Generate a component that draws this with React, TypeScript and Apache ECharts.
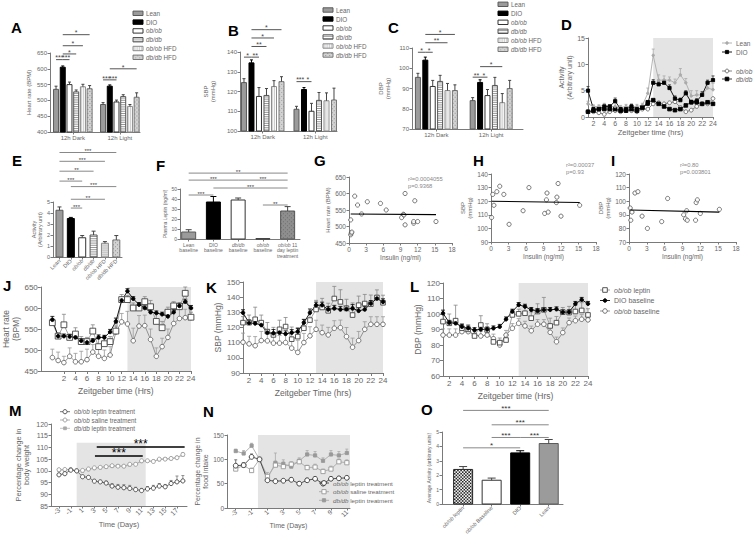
import { useEffect, useRef } from 'react';
import * as echarts from 'echarts';

const FONT = '"Liberation Sans", Arial, sans-serif';
const AXC = '#7a7a7a';
const TXC = '#666666';

// ---------- A/B/C ----------
const GENO = ['Lean', 'DIO', 'ob/ob', 'db/db', 'ob/ob HFD', 'db/db HFD'];
const PHASES = ['12h Dark', '12h Light'];
const HR_DARK = [535, 605, 550, 527, 543, 537];
const HR_DARK_SE = [10, 4, 8, 6, 8, 10];
const HR_LIGHT = [487, 545, 495, 512, 481, 510];
const HR_LIGHT_SE = [6, 4, 6, 6, 6, 14];
const SBP_DARK = [124.5, 134.5, 117.5, 118, 122.5, 125];
const SBP_DARK_SE = [2, 1.5, 4.5, 3.5, 3, 2.5];
const SBP_LIGHT = [111, 121, 110, 115.5, 115.3, 115.7];
const SBP_LIGHT_SE = [1.5, 1, 4, 4, 4, 6];
const DBP_DARK = [95.5, 104, 91, 93.5, 89, 89];
const DBP_DARK_SE = [2, 1.5, 3, 3, 3.5, 2.8];
const DBP_LIGHT = [84, 93, 86.5, 91.5, 83, 90];
const DBP_LIGHT_SE = [1.5, 1.3, 3, 4, 4.5, 4];

// ---------- D ----------
const HOURS = [1, 2, 3, 4, 5, 6, 7, 8, 9, 10, 11, 12, 13, 14, 15, 16, 17, 18, 19, 20, 21, 22, 23, 24];
const D_LEAN = [2.5, 2.0, 2.0, 2.2, 2.0, 2.0, 1.8, 2.0, 2.0, 2.0, 2.2, 4.5, 11.7, 7.0, 7.0, 7.0, 6.5, 8.0, 6.5, 4.0, 4.2, 4.2, 5.5, 5.2];
const D_LEAN_SE = [0.5, 0.3, 0.3, 0.4, 0.3, 1.2, 0.4, 0.4, 0.5, 0.4, 0.4, 1.0, 1.2, 1.0, 0.8, 0.6, 0.7, 1.2, 0.8, 1.0, 0.8, 0.6, 0.8, 1.2];
const D_DIO = [5.0, 1.5, 1.5, 2.0, 2.0, 3.0, 1.5, 1.5, 2.0, 1.5, 1.8, 2.5, 6.5, 6.2, 6.5, 5.5, 3.5, 3.2, 4.5, 2.8, 3.0, 4.2, 6.5, 7.0];
const D_DIO_SE = [0.8, 0.3, 0.3, 0.4, 0.3, 0.6, 0.3, 0.3, 0.4, 0.3, 0.3, 0.4, 0.6, 0.6, 0.5, 0.6, 0.5, 0.4, 0.5, 0.4, 0.5, 0.6, 0.5, 0.8];
const D_OB = [1.0, 1.0, 0.8, 0.5, 1.0, 1.2, 1.0, 1.2, 1.2, 1.0, 1.5, 1.5, 2.5, 2.7, 2.5, 2.7, 2.9, 1.8, 1.0, 1.3, 2.0, 2.5, 2.5, 3.5];
const D_DB = [1.0, 1.2, 1.5, 1.5, 1.5, 1.5, 1.2, 1.2, 1.5, 1.2, 1.8, 2.8, 3.2, 2.5, 2.0, 1.5, 1.3, 1.5, 2.2, 2.8, 2.8, 2.5, 2.8, 2.5];

// ---------- E ----------
const E_VALS = [4.25, 3.5, 1.75, 2.0, 1.25, 1.55];
const E_SE = [0.3, 0.1, 0.2, 0.35, 0.15, 0.4];

// ---------- F ----------
const F_CATS = ['Lean\nbaseline', 'DIO\nbaseline', 'db/db\nbaseline', 'ob/ob\nbaseline', 'ob/ob 11\nday leptin\ntreatment'];
const F_VALS = [7, 37, 39, 0.3, 28];
const F_SE = [2.3, 5.5, 2, 0, 4.4];

// ---------- G/H/I ----------
const G_INS = [0.3, 0.3, 0.4, 0.5, 1, 1.5, 2.2, 3.2, 5.5, 6.5, 9.2, 9.5, 9.6, 9.8, 9.8, 11.3, 11.3, 11.5, 12, 15.2];
const G_HR = [520, 475, 480, 483, 592, 565, 538, 575, 570, 550, 527, 537, 535, 600, 505, 510, 515, 578, 515, 515];
const G_FIT_X = [0.3, 15.2];
const G_FIT_Y = [538, 536];
const H_INS = [0.1, 0.3, 0.5, 1, 1.5, 2.2, 3.1, 5.5, 6.5, 9.2, 9.6, 9.5, 9.8, 11.2, 11.3, 11.5, 12, 15.2];
const H_SBP = [108, 125, 117, 127, 131, 125, 103, 113, 130, 111, 126, 121, 112, 119, 123, 133, 109, 117];
const H_FIT_X = [0.1, 15.2];
const H_FIT_Y = [120, 119];
const I_INS = [0.2, 0.3, 0.5, 1, 1.5, 2.2, 3.1, 5.5, 6.5, 9.2, 9.5, 9.7, 9.8, 11.2, 11.3, 11.5, 12, 15.2];
const I_DBP = [95, 86, 92, 106, 107, 89, 80, 85, 102, 90, 87, 93, 86, 86, 99, 101, 91, 94];
const I_FIT_X = [0.2, 15.2];
const I_FIT_Y = [93.5, 92];

// ---------- J/K/L ----------
const J_HOURS = [0, 1, 2, 3, 4, 5, 6, 7, 8, 9, 10, 11, 12, 13, 14, 15, 16, 17, 18, 19, 20, 21, 22, 23, 24];
const J_LEP = [565, 533, 560, 530, 538, 520, 520, 545, 508, 515, 520, 545, 620, 620, 600, 600, 615, 603, 568, 553, 590, 605, 603, 635, 578];
const J_LEP_SE = [10, 8, 25, 8, 15, 12, 10, 15, 20, 15, 12, 12, 12, 10, 12, 10, 12, 15, 20, 15, 12, 10, 10, 15, 12];
const J_DIO = [572, 533, 533, 532, 530, 522, 518, 522, 530, 530, 543, 568, 618, 640, 622, 608, 600, 590, 588, 585, 580, 590, 605, 615, 600];
const J_DIO_SE = [8, 5, 5, 5, 5, 5, 5, 5, 6, 5, 6, 8, 6, 6, 5, 5, 5, 5, 5, 5, 5, 6, 6, 6, 6];
const J_BASE = [482, 475, 470, 485, 472, 472, 477, 495, 485, 480, 488, 543, 567, 562, 522, 557, 558, 525, 485, 508, 530, 563, 575, 577, 577];
const J_BASE_SE = [20, 20, 15, 20, 20, 25, 25, 18, 25, 20, 20, 20, 20, 30, 30, 25, 25, 25, 20, 20, 20, 25, 25, 20, 20];

const K_LEP = [123.2, 123.2, 125.4, 123.2, 117.3, 115.1, 118.8, 120.6, 112.3, 114, 119.5, 124.9, 131.9, 133.2, 131, 139.1, 136.9, 132.6, 128.2, 134.7, 135.8, 135.4, 139.8, 136.3];
const K_LEP_SE = [4, 5, 8, 5, 6, 5, 6, 6, 8, 6, 6, 6, 6, 6, 5, 8, 8, 6, 8, 6, 6, 6, 5, 5];
const K_DIO = [129.7, 123, 122.7, 121.6, 116.6, 116.2, 116.6, 115.8, 116.6, 117.3, 123.2, 129.7, 134.7, 134.7, 131.9, 132.6, 131.9, 132.1, 132.6, 131, 131.9, 135.8, 139.1, 136.9];
const K_DIO_SE = [2, 2, 1.5, 2, 2, 2.5, 2, 2, 2, 2, 2, 2.5, 2, 2, 2, 2, 2, 2, 2.5, 2, 2, 2, 2, 2];
const K_BASE = [110.3, 109.2, 108, 111.4, 111.2, 109.7, 109.7, 110.1, 106.4, 103.6, 110.1, 114.5, 118.8, 116.6, 115.1, 119.5, 119.9, 114, 107, 111.4, 118.8, 122.1, 122.1, 122.1];
const K_BASE_SE = [6, 5, 6, 6, 5, 5, 5, 6, 6, 8, 6, 6, 6, 5, 5, 5, 5, 6, 6, 6, 5, 5, 5, 5];

const L_LEP = [95.1, 94, 95.7, 90.8, 90.1, 85.8, 92.9, 89.7, 82, 81.5, 83.2, 99.4, 100.1, 100.5, 97.3, 101.6, 102.7, 92.3, 94.4, 101.2, 100.9, 101.6, 102.3, 99.4];
const L_LEP_SE = [5, 6, 10, 3, 3, 3, 6, 4, 3, 3, 3, 3, 3, 5, 4, 5, 8, 5, 4, 3, 4, 4, 5, 4];
const L_DIO = [100.5, 94.4, 94, 91.8, 90.8, 89.7, 90.1, 90.1, 90.8, 91.8, 96.6, 101.6, 105.9, 104.8, 102.7, 102, 102.7, 102.7, 103.1, 101.2, 101.2, 106.6, 109.2, 106.6];
const L_DIO_SE = [2, 1.5, 1.5, 1.5, 1.5, 1.5, 1.5, 1.5, 1.5, 1.5, 1.5, 1.5, 1.5, 1.5, 1.5, 1.5, 1.5, 1.5, 1.5, 1.5, 1.5, 1.5, 1.5, 1.5];
const L_BASE = [86.4, 86.4, 86.4, 88.6, 88.6, 86.4, 85.8, 86.4, 84, 80, 86.4, 90.8, 94, 92.3, 89.2, 93.4, 93.4, 88.2, 82.1, 88, 94.4, 95.7, 96.6, 96.2];
const L_BASE_SE = [4, 4, 4, 3, 3, 3, 3, 3, 3, 3, 3, 3, 3, 3, 3, 3, 3, 3, 3, 3, 3, 3, 3, 3];

// ---------- M ----------
const M_DAYS = [-3, -2, -1, 0, 1, 2, 3, 4, 5, 6, 7, 8, 9, 10, 11, 12, 13, 14, 15, 16, 17, 18];
const M_LEP = [98.3, 98.8, 100.3, 100, 97.5, 97.2, 95.6, 95.3, 94.8, 93.5, 93, 92.8, 92.5, 92, 91.6, 92.3, 92.6, 93.5, 93.2, 94.6, 95.3, 95.7];
const M_LEP_SE = [0.5, 0.4, 0.3, 0, 0.5, 0.5, 0.6, 0.6, 0.8, 1.0, 1.2, 1.3, 1.3, 1.0, 0.9, 1.0, 1.2, 1.1, 1.0, 1.3, 2.5, 2.3];
const M_SAL = [100.5, 100.6, 100.6, 100, 100.2, 100.8, 101.3, 101.5, 101.8, 102.2, 102, 102, 102.8, 102.8, 104.3, 104.3, 104, 105, 105, 105.3, 105.6, 107];
const M_SAL_SE = [0.4, 0.3, 0.3, 0, 0.3, 0.3, 0.3, 0.3, 0.3, 0.3, 0.3, 0.3, 0.3, 0.3, 0.3, 0.3, 0.3, 0.3, 0.3, 0.3, 0.3, 0.8];
const M_DB = [100.2, 100.4, 100.5, 100, 100.0, 100.6, 101.1, 101.4, 101.7, 102.0, 102.1, 101.9, 102.6, 102.9, 104.1, 104.2, 104.1, 104.8, 105.1, 105.2, 105.7, 106.8];

// ---------- N ----------
const N_DAYS = [-3, -2, -1, 0, 1, 2, 3, 4, 5, 6, 7, 8, 9, 10, 11];
const N_LEP = [87, 88, 105, 100, 57, 55, 56, 58, 50, 57, 60, 50, 60, 61, 62];
const N_LEP_SE = [12, 5, 6, 0, 8, 4, 3, 4, 4, 4, 3, 4, 3, 3, 3];
const N_SAL = [80, 88, 77, 100, 65, 88, 85, 90, 95, 83, 84, 75, 80, 95, 93];
const N_SAL_SE = [4, 4, 5, 0, 8, 6, 5, 5, 5, 5, 6, 5, 6, 6, 6];
const N_DB = [117, 112, 128, 100, 60, 93, 91, 85, 97, 110, 108, 97, 110, 108, 113];
const N_DB_SE = [4, 6, 5, 0, 8, 20, 8, 5, 6, 8, 8, 6, 8, 8, 8];

// ---------- O ----------
const O_CATS = ['ob/ob leptin', 'ob/ob Baseline', 'DIO', 'Lean'];
const O_VALS = [2.4, 1.65, 3.55, 4.2];
const O_SE = [0.2, 0.15, 0.15, 0.28];

// ---------- significance annotations [x1, x2, y, label] ----------
const A_SIG = [[0, 1, 629, '***'], [1, 2, 629, '***'], [1, 3, 647, '*'], [1, 4, 673, '*'], [1, 5, 708, '*'], [7, 8, 565, '***'], [8, 9, 565, '***'], [8, 12, 600, '*']];
const B_SIG = [[0, 1, 137.4, '*'], [1, 2, 137.4, '**'], [1, 3, 142.8, '**'], [1, 4, 147.1, '*'], [1, 5, 151.3, '*'], [7, 8, 125, '***'], [8, 9, 125, '*']];
const C_SIG = [[0, 1, 107.9, '*'], [1, 2, 107.9, '*'], [1, 4, 112.6, '**'], [1, 5, 116.7, '*'], [7.4, 8.4, 95.6, '**'], [8.4, 9.4, 95.6, '*'], [8.4, 11.4, 100.8, '*']];
const E_SIG = [[0, 5, 9.5, '***'], [0, 4, 8.7, '***'], [0, 3, 7.8, '**'], [0, 2, 6.9, '***'], [1, 5, 6.4, '***'], [1, 4, 5.25, '**'], [1, 2, 4.45, '***']];
const F_SIG = [[0, 4, 65.9, '**'], [0, 2, 58.9, '***'], [2, 4, 58.9, '***'], [1, 4, 51, '***'], [0, 1, 44, '***'], [3, 4, 34, '**']];
const M_SIG = [[3.4, 18.3, 110.2, '***'], [3.1, 11.2, 106.3, '***']];
const O_SIG = [[0, 3, 6.5, '***'], [1, 3, 5.5, '***'], [1, 2, 4.62, '***'], [2, 3, 4.62, '***'], [0, 2, 3.9, '*']];

const STYLES: any[] = [
  { fill: '#9b9b9b', stroke: '#5a5a5a' },
  { fill: '#000000', stroke: '#000000' },
  { fill: '#ffffff', stroke: '#333333' },
  { fill: '#ffffff', stroke: '#555555', pat: 'h', pc: '#6a6a6a' },
  { fill: '#ffffff', stroke: '#8a8a8a', pat: 'v', pc: '#b8b8b8' },
  { fill: '#d2d2d2', stroke: '#777777', pat: 'd', pc: '#8a8a8a' },
  { fill: '#c9c9c9', stroke: '#8a8a8a', pat: 'h', pc: '#e6e6e6' },
  { fill: '#8e8e8e', stroke: '#555555', pat: 'd', pc: '#6a6a6a' },
  { fill: '#ffffff', stroke: '#222222', pat: 'c', pc: '#222222' },
];

function patternShapes(x: number, y: number, w: number, h: number, s: any) {
  const out: any[] = [{ type: 'rect', shape: { x, y, width: w, height: h }, style: { fill: s.fill, stroke: 'none' } }];
  if (s.pat === 'h') {
    for (let yy = y + 1.5; yy < y + h - 0.5; yy += 2.2) out.push({ type: 'line', shape: { x1: x, y1: yy, x2: x + w, y2: yy }, style: { stroke: s.pc, lineWidth: 0.7 } });
  }
  if (s.pat === 'v') {
    for (let xx = x + 1.2; xx < x + w - 0.5; xx += 1.8) out.push({ type: 'line', shape: { x1: xx, y1: y, x2: xx, y2: y + h }, style: { stroke: s.pc, lineWidth: 0.7 } });
  }
  if (s.pat === 'd' || s.pat === 'c') {
    const step = s.pat === 'c' ? 1.6 : 2;
    const sz = s.pat === 'c' ? 1.6 : 0.9;
    let r = 0;
    for (let yy = y + 0.3; yy < y + h - 0.5; yy += step, r++) {
      for (let xx = x + 0.3 + (r % 2) * step; xx < x + w - 0.5; xx += step * 2) {
        out.push({ type: 'rect', shape: { x: xx, y: yy, width: Math.min(sz, x + w - xx), height: Math.min(sz, y + h - yy) }, style: { fill: s.pc } });
      }
    }
  }
  out.push({ type: 'rect', shape: { x, y, width: w, height: h }, style: { fill: 'none', stroke: s.stroke, lineWidth: 1 } });
  return out;
}

const it = (s: string) => s.replace(/(ob\/ob|db\/db)/g, '{i|$1}');

function mkAxis(o: any) {
  const a: any = {
    type: 'value', min: o.min, max: o.max,
    axisLine: { show: true, onZero: false, lineStyle: { color: AXC, width: 1 } },
    axisTick: { show: true, length: o.tickLen ?? 2.5, lineStyle: { color: AXC, width: 1 } },
    axisLabel: {
      show: true, fontSize: o.fs, color: TXC, fontFamily: FONT, margin: o.margin ?? 3,
      rotate: o.rotate ?? 0, showMinLabel: true, showMaxLabel: true, lineHeight: o.fs * 1.1,
      rich: { i: { fontStyle: 'italic', fontSize: o.fs, color: TXC, fontFamily: FONT, lineHeight: o.fs * 1.1 } },
    },
    splitLine: { show: false },
  };
  if (o.interval != null) a.interval = o.interval;
  if (o.custom) { a.axisLabel.customValues = o.custom; a.axisTick.customValues = o.custom; }
  if (o.fmt) a.axisLabel.formatter = o.fmt;
  if (o.name) {
    a.name = o.name; a.nameLocation = 'middle'; a.nameGap = o.nameGap;
    a.nameTextStyle = { fontSize: o.nameFs ?? o.fs, color: TXC, fontFamily: FONT, lineHeight: (o.nameFs ?? o.fs) * 1.15 };
  }
  return a;
}

function buildOption() {
  const grids: any[] = [], xAxes: any[] = [], yAxes: any[] = [], series: any[] = [], graphic: any[] = [];
  const addGrid = (left: number, top: number, width: number, height: number, x: any, y: any) => {
    const gi = grids.length;
    grids.push({ left, top, width, height, containLabel: false });
    xAxes.push({ ...mkAxis(x), gridIndex: gi });
    yAxes.push({ ...mkAxis(y), gridIndex: gi });
    return gi;
  };

  const barSeries = (gi: number, base: number, barW: number, cap: number, items: any[]) => ({
    type: 'custom', xAxisIndex: gi, yAxisIndex: gi, silent: true, clip: false, z: 3,
    encode: { x: 0, y: 1 },
    data: items,
    renderItem: (_p: any, api: any) => {
      const x = api.value(0), y = api.value(1), e = api.value(2), si = api.value(3);
      const p0 = api.coord([x, base]);
      const p1 = api.coord([x, y]);
      const s = STYLES[si];
      const left = p0[0] - barW / 2;
      const top = p1[1];
      const h = Math.max(0.01, p0[1] - p1[1]);
      const children = patternShapes(left, top, barW, h, s);
      if (e > 0) {
        const pe = api.coord([x, y + e]);
        const ec = si === 1 ? '#000' : '#444';
        children.push({ type: 'line', shape: { x1: p1[0], y1: top, x2: p1[0], y2: pe[1] }, style: { stroke: ec, lineWidth: 1 } });
        children.push({ type: 'line', shape: { x1: p1[0] - cap, y1: pe[1], x2: p1[0] + cap, y2: pe[1] }, style: { stroke: ec, lineWidth: 1 } });
      }
      return { type: 'group', children };
    },
  });

  const errSeries = (gi: number, xs: number[], ys: number[], se: number[], color: string, cap: number) => ({
    type: 'custom', xAxisIndex: gi, yAxisIndex: gi, silent: true, clip: false, z: 1,
    encode: { x: 0, y: 1 },
    data: xs.map((x, i) => [x, ys[i], se[i]]),
    renderItem: (_p: any, api: any) => {
      const x = api.value(0), y = api.value(1), e = api.value(2);
      if (!(e > 0)) return { type: 'group', children: [] };
      const p0 = api.coord([x, y]);
      const p1 = api.coord([x, y + e]);
      return {
        type: 'group', children: [
          { type: 'line', shape: { x1: p0[0], y1: p0[1], x2: p1[0], y2: p1[1] }, style: { stroke: color, lineWidth: 0.8 } },
          { type: 'line', shape: { x1: p1[0] - cap, y1: p1[1], x2: p1[0] + cap, y2: p1[1] }, style: { stroke: color, lineWidth: 0.8 } },
        ],
      };
    },
  });

  const lineSeries = (gi: number, xs: number[], ys: number[], sym: string, size: number, fill: string, stroke: string, lineColor: string, extra: any = {}) => ({
    type: 'line', xAxisIndex: gi, yAxisIndex: gi, silent: true, z: 3,
    data: xs.map((x, i) => [x, ys[i]]),
    symbol: sym, symbolSize: size, showSymbol: true,
    itemStyle: { color: fill, borderColor: stroke, borderWidth: 0.9 },
    lineStyle: { color: lineColor, width: 0.9 },
    ...extra,
  });

  const shade = (x1: number, x2: number, y1?: number, y2?: number) => ({
    markArea: {
      silent: true, itemStyle: { color: '#e4e4e4' },
      data: [[y1 != null ? { xAxis: x1, yAxis: y1 } : { xAxis: x1 }, y2 != null ? { xAxis: x2, yAxis: y2 } : { xAxis: x2 }]],
    },
    z: 1,
  });

  const txt = (x: number, y: number, text: string, fs: number, extra: any = {}) => ({
    type: 'text', x, y, silent: true,
    style: {
      text, fontSize: fs, fontFamily: FONT, fill: extra.fill ?? TXC, fontWeight: extra.bold ? 'bold' : 'normal',
      align: extra.align ?? 'left', verticalAlign: extra.va ?? 'middle',
      textAlign: extra.align ?? 'left', textVerticalAlign: extra.va ?? 'middle',
      lineHeight: fs * 1.15,
      rich: { i: { fontStyle: 'italic', fontSize: fs, fontFamily: FONT, fill: extra.fill ?? TXC } },
    },
  });
  const letter = (x: number, y: number, t: string) => txt(x, y, t, 15, { bold: true, fill: '#000', va: 'top' });

  const barLegend = (x0: number, y0: number, dy: number, fs: number) => {
    GENO.forEach((g, i) => {
      const y = y0 + i * dy;
      patternShapes(x0, y - 2.2, 10, 4.4, STYLES[i]).forEach((e) => graphic.push({ ...e, silent: true }));
      graphic.push(txt(x0 + 13, y, it(g), fs));
    });
  };

  const lineLegend = (x0: number, y: number, sym: string, size: number, fill: string, stroke: string, lc: string, label: string, fs: number) => {
    graphic.push({ type: 'line', silent: true, shape: { x1: x0, y1: y, x2: x0 + 10, y2: y }, style: { stroke: lc, lineWidth: 0.9 } });
    if (sym === 'circle') graphic.push({ type: 'circle', silent: true, shape: { cx: x0 + 5, cy: y, r: size / 2 }, style: { fill, stroke, lineWidth: 0.9 } });
    else graphic.push({ type: 'rect', silent: true, shape: { x: x0 + 5 - size / 2, y: y - size / 2, width: size, height: size }, style: { fill, stroke, lineWidth: 0.9 } });
    graphic.push(txt(x0 + 14, y, it(label), fs));
  };

  const sigSpecs: any[] = [];

  // ===== A =====
  const phaseFmt = (v: number) => (v < 6 ? PHASES[0] : PHASES[1]);
  const gA = addGrid(50, 53, 90, 79,
    { min: -0.9, max: 12.5, custom: [2.5, 9.5], fmt: phaseFmt, fs: 6 },
    { min: 400, max: 650, interval: 50, fs: 6, name: 'Heart rate (BPM)', nameGap: 18 });
  series.push(barSeries(gA, 400, 5, 1.5, HR_DARK.map((v, i) => [i, v, HR_DARK_SE[i], i]).concat(HR_LIGHT.map((v, i) => [i + 7, v, HR_LIGHT_SE[i], i]))));
  sigSpecs.push({ gi: gA, sigs: A_SIG, color: '#555', fs: 7 });
  barLegend(133, 13.3, 8.8, 6.3);
  graphic.push(letter(11, 19, 'A'));

  // ===== B =====
  const gB = addGrid(240, 52, 97, 79,
    { min: -0.53, max: 12.4, custom: [2.5, 9.5], fmt: phaseFmt, fs: 6 },
    { min: 100, max: 140, interval: 10, fs: 6, name: 'SBP\n(mmHg)', nameGap: 24 });
  series.push(barSeries(gB, 100, 5, 1.5, SBP_DARK.map((v, i) => [i, v, SBP_DARK_SE[i], i]).concat(SBP_LIGHT.map((v, i) => [i + 7, v, SBP_LIGHT_SE[i], i]))));
  sigSpecs.push({ gi: gB, sigs: B_SIG, color: '#555', fs: 7 });
  barLegend(323, 10, 9, 6.3);
  graphic.push(letter(228, 22, 'B'));

  // ===== C =====
  const gC = addGrid(412, 48, 111, 81,
    { min: -0.8, max: 14.2, custom: [2.5, 9.9], fmt: phaseFmt, fs: 6 },
    { min: 70, max: 110, interval: 10, fs: 6, name: 'DBP\n(mmHg)', nameGap: 21 });
  series.push(barSeries(gC, 70, 5, 1.5, DBP_DARK.map((v, i) => [i, v, DBP_DARK_SE[i], i]).concat(DBP_LIGHT.map((v, i) => [i + 7.4, v, DBP_LIGHT_SE[i], i]))));
  sigSpecs.push({ gi: gC, sigs: C_SIG, color: '#555', fs: 7 });
  barLegend(498, 4.3, 9, 6.3);
  graphic.push(letter(388, 19, 'C'));

  // ===== D =====
  const evenH = [2, 4, 6, 8, 10, 12, 14, 16, 18, 20, 22, 24];
  const gD = addGrid(588, 38, 125, 79,
    { min: 1, max: 24, custom: evenH, fs: 7, name: 'Zeitgeber time (hrs)', nameGap: 11, nameFs: 7.5 },
    { min: 0, max: 15, interval: 5, fs: 7, name: 'Activity\n(Arbitrary unit)', nameGap: 8, nameFs: 7 });
  series.push(lineSeries(gD, HOURS, D_OB, 'circle', 3.8, '#fff', '#666', '#777', shade(13, 24)));
  series.push(lineSeries(gD, HOURS, D_DB, 'rect', 3.6, '#000', '#000', '#222'));
  series.push(lineSeries(gD, HOURS, D_LEAN, 'circle', 2.6, '#aaa', '#aaa', '#aaa'));
  series.push(lineSeries(gD, HOURS, D_DIO, 'rect', 3.2, '#000', '#000', '#000'));
  series.push(errSeries(gD, HOURS, D_LEAN, D_LEAN_SE, '#aaa', 1.5));
  series.push(errSeries(gD, HOURS, D_DIO, D_DIO_SE, '#333', 1.5));
  lineLegend(722, 43, 'circle', 2.6, '#aaa', '#aaa', '#aaa', 'Lean', 6.5);
  lineLegend(722, 52, 'rect', 3.2, '#000', '#000', '#000', 'DIO', 6.5);
  lineLegend(722, 71, 'circle', 3.8, '#fff', '#666', '#777', 'ob/ob', 6.5);
  lineLegend(722, 79, 'rect', 3.6, '#000', '#000', '#222', 'db/db', 6.5);
  graphic.push(letter(561, 16, 'D'));

  // ===== E =====
  const gE = addGrid(53, 202, 69, 55,
    { min: -0.57, max: 5.5, custom: [0, 1, 2, 3, 4, 5], fmt: (v: number) => it(GENO[Math.round(v)]), fs: 5.5, rotate: 45 },
    { min: 0, max: 5, interval: 1, fs: 5.5, name: 'Activity\n(Arbitrary unit)', nameGap: 9, nameFs: 5.5 });
  series.push(barSeries(gE, 0, 7, 2, E_VALS.map((v, i) => [i, v, E_SE[i], [0, 1, 2, 3, 6, 5][i]])));
  sigSpecs.push({ gi: gE, sigs: E_SIG, color: '#888', fs: 6 });
  graphic.push(letter(12, 152, 'E'));

  // ===== F =====
  const gF = addGrid(180, 189, 120, 50,
    { min: -0.35, max: 4.5, custom: [0, 1, 2, 3, 4], fmt: (v: number) => it(F_CATS[Math.round(v)]), fs: 5 },
    { min: 0, max: 50, interval: 10, fs: 5, name: 'Plasma Leptin (ng/ml)', nameGap: 12 });
  series.push(barSeries(gF, 0, 14, 3, F_VALS.map((v, i) => [i, v, F_SE[i], [0, 1, 2, 2, 7][i]])));
  sigSpecs.push({ gi: gF, sigs: F_SIG, color: '#888', fs: 6 });
  graphic.push(letter(156, 157, 'F'));

  // ===== G/H/I =====
  const scatterPanel = (left: number, top: number, w: number, h: number, ymin: number, ymax: number, yint: number, yname: string, gap: number, xs: number[], ys: number[], fx: number[], fy: number[]) => {
    const gi = addGrid(left, top, w, h,
      { min: 0, max: 18, interval: 3, fs: 6.5, name: 'Insulin (ng/ml)', nameGap: 8, nameFs: 6.5 },
      { min: ymin, max: ymax, interval: yint, fs: 6.5, name: yname, nameGap: gap, nameFs: 6 });
    series.push({ type: 'scatter', xAxisIndex: gi, yAxisIndex: gi, silent: true, symbol: 'circle', symbolSize: 4.2, itemStyle: { color: '#fff', borderColor: '#444', borderWidth: 0.9 }, data: xs.map((x, i) => [x, ys[i]]), z: 3 });
    series.push({ type: 'line', xAxisIndex: gi, yAxisIndex: gi, silent: true, symbol: 'none', lineStyle: { color: '#000', width: 1.1 }, data: fx.map((x, i) => [x, fy[i]]), z: 4 });
    return gi;
  };
  scatterPanel(349, 177, 103, 66, 450, 650, 50, 'Heart rate (BPM)', 16, G_INS, G_HR, G_FIT_X, G_FIT_Y);
  scatterPanel(491, 174, 105, 68, 90, 140, 10, 'SBP\n(mmHg)', 11, H_INS, H_SBP, H_FIT_X, H_FIT_Y);
  scatterPanel(629, 174, 107, 68, 70, 120, 10, 'DBP\n(mmHg)', 11, I_INS, I_DBP, I_FIT_X, I_FIT_Y);
  graphic.push(txt(408, 176, 'r²=0.0004055\np=0.9368', 5.8, { va: 'top', fill: '#888' }));
  graphic.push(txt(566, 162, 'r²=0.00037\np=0.93', 5.8, { va: 'top', fill: '#888' }));
  graphic.push(txt(680, 162, 'r²=0.80\np=0.003801', 5.8, { va: 'top', fill: '#888' }));
  graphic.push(letter(314, 152, 'G'));
  graphic.push(letter(473, 152, 'H'));
  graphic.push(letter(611, 152, 'I'));

  // ===== J/K/L =====
  const leptStyle = { sym: 'rect', size: 5.5, fill: '#fff', stroke: '#444', lc: '#999' };
  const dioStyle = { sym: 'circle', size: 3.6, fill: '#000', stroke: '#000', lc: '#000' };
  const baseStyle = { sym: 'circle', size: 4.6, fill: '#fff', stroke: '#666', lc: '#888' };
  const jklPanel = (left: number, top: number, w: number, h: number, xmin: number, ymin: number, ymax: number, yint: number, xname: string, yname: string, ygap: number, xs: number[], lep: number[], lepSe: number[], dio: number[], dioSe: number[], base: number[], baseSe: number[], sq: number) => {
    const gi = addGrid(left, top, w, h,
      { min: xmin, max: 24, custom: evenH, fs: 8, name: xname, nameGap: 15, nameFs: 8.5, tickLen: 3 },
      { min: ymin, max: ymax, interval: yint, fs: 8, name: yname, nameGap: ygap, nameFs: 8.5, tickLen: 3 });
    series.push(errSeries(gi, xs, base, baseSe, '#999', 2));
    series.push(errSeries(gi, xs, lep, lepSe, '#888', 2));
    series.push(errSeries(gi, xs, dio, dioSe, '#000', 2));
    series.push(lineSeries(gi, xs, base, baseStyle.sym, baseStyle.size, baseStyle.fill, baseStyle.stroke, baseStyle.lc, shade(13, 24)));
    series.push(lineSeries(gi, xs, lep, leptStyle.sym, sq, leptStyle.fill, leptStyle.stroke, leptStyle.lc));
    series.push(lineSeries(gi, xs, dio, dioStyle.sym, dioStyle.size, dioStyle.fill, dioStyle.stroke, dioStyle.lc));
    return gi;
  };
  jklPanel(23, 287, 168, 84, -2, 450, 650, 50, 'Zeitgeber time (Hrs)', 'Heart rate\n(BPM)', 4, J_HOURS, J_LEP, J_LEP_SE, J_DIO, J_DIO_SE, J_BASE, J_BASE_SE, 5.8);
  jklPanel(243, 282, 140, 91, 1, 90, 150, 10, 'Zeitgeber Time (hrs)', 'SBP (mmHg)', 20, HOURS, K_LEP, K_LEP_SE, K_DIO, K_DIO_SE, K_BASE, K_BASE_SE, 4.6);
  jklPanel(443, 283, 145, 93, 1, 60, 120, 10, 'Zeitgeber time (Hrs)', 'DBP (mmHg)', 19, HOURS, L_LEP, L_LEP_SE, L_DIO, L_DIO_SE, L_BASE, L_BASE_SE, 4.6);
  lineLegend(600, 290, 'rect', 4.6, '#fff', '#444', '#999', 'ob/ob leptin', 7);
  lineLegend(600, 300.5, 'circle', 3.6, '#000', '#000', '#000', 'DIO baseline', 7);
  lineLegend(600, 311, 'circle', 4.6, '#fff', '#666', '#888', 'ob/ob baseline', 7);
  graphic.push(letter(3, 277, 'J'));
  graphic.push(letter(206, 279, 'K'));
  graphic.push(letter(410, 278, 'L'));

  // ===== M =====
  const oddD = [-3, -1, 1, 3, 5, 7, 9, 11, 13, 15, 17];
  const gM = addGrid(51, 424, 136, 82,
    { min: -4.35, max: 18.7, custom: oddD, fs: 7, rotate: 45, name: 'Time (Days)', nameGap: 14, nameFs: 7.5 },
    { min: 85, max: 120, interval: 5, fs: 7, name: 'Percentage change in\nbody weight', nameGap: 20, nameFs: 7.5 });
  series.push(errSeries(gM, M_DAYS, M_SAL, M_SAL_SE, '#aaa', 1.5));
  series.push(errSeries(gM, M_DAYS, M_LEP, M_LEP_SE, '#777', 1.5));
  series.push(lineSeries(gM, M_DAYS, M_DB, 'rect', 2.8, '#aaa', '#aaa', '#bbb', shade(0, 11.7, 85, 112)));
  series.push(lineSeries(gM, M_DAYS, M_SAL, 'circle', 4, '#fff', '#999', '#aaa'));
  series.push(lineSeries(gM, M_DAYS, M_LEP, 'circle', 4.2, '#fff', '#444', '#666'));
  sigSpecs.push({ gi: gM, sigs: M_SIG, color: '#000', fs: 12, lw: 1.5, tcolor: '#000' });
  lineLegend(60, 411.7, 'circle', 4.2, '#fff', '#444', '#666', 'ob/ob leptin treatment', 6.3);
  lineLegend(60, 420, 'circle', 4, '#fff', '#999', '#aaa', 'ob/ob saline treatment', 6.3);
  lineLegend(60, 428.3, 'rect', 2.8, '#aaa', '#aaa', '#bbb', 'db/db leptin treatment', 6.3);
  graphic.push(letter(9, 402, 'M'));

  // ===== N =====
  const oddN = [-3, -1, 1, 3, 5, 7, 9, 11];
  const gN = addGrid(227, 435, 123, 73,
    { min: -4.1, max: 11.4, custom: oddN, fs: 6.5, rotate: 45, name: 'Time (Days)', nameGap: 8, nameFs: 7 },
    { min: 0, max: 150, interval: 50, fs: 6.5, name: 'Percentage change in\nfood intake', nameGap: 17, nameFs: 7 });
  series.push(errSeries(gN, N_DAYS, N_DB, N_DB_SE, '#aaa', 1.5));
  series.push(errSeries(gN, N_DAYS, N_SAL, N_SAL_SE, '#aaa', 1.5));
  series.push(errSeries(gN, N_DAYS, N_LEP, N_LEP_SE, '#555', 1.5));
  series.push(lineSeries(gN, N_DAYS, N_DB, 'rect', 3.2, '#999', '#999', '#aaa', shade(-0.2, 11.4)));
  series.push(lineSeries(gN, N_DAYS, N_SAL, 'rect', 4.2, '#fff', '#999', '#aaa'));
  series.push(lineSeries(gN, N_DAYS, N_LEP, 'circle', 4.8, '#fff', '#333', '#444'));
  lineLegend(319, 483, 'circle', 4.8, '#fff', '#333', '#444', 'ob/ob leptin treatment', 6.2);
  lineLegend(319, 491.7, 'rect', 4.2, '#fff', '#999', '#aaa', 'ob/ob saline treatment', 6.2);
  lineLegend(319, 500.3, 'rect', 3.2, '#999', '#999', '#aaa', 'db/db leptin treatment', 6.2);
  graphic.push(letter(203, 403, 'N'));

  // ===== O =====
  const gO = addGrid(442, 432, 121, 72,
    { min: -0.74, max: 3.5, custom: [0, 1, 2, 3], fmt: (v: number) => it(O_CATS[Math.round(v)]), fs: 5.5, rotate: 45 },
    { min: 0, max: 5, interval: 1, fs: 5, name: 'Average Activity (arbitrary units)', nameGap: 6, nameFs: 5 });
  series.push(barSeries(gO, 0, 19, 4, O_VALS.map((v, i) => [i, v, O_SE[i], [8, 2, 1, 0][i]])));
  sigSpecs.push({ gi: gO, sigs: O_SIG, color: '#888', fs: 8, tcolor: '#333' });
  graphic.push(letter(421, 401, 'O'));

  const option = {
    animation: false,
    backgroundColor: '#ffffff',
    textStyle: { fontFamily: FONT },
    grid: grids, xAxis: xAxes, yAxis: yAxes, series,
  };
  return { option, sigSpecs, graphic };
}

export default function App() {
  const ref = useRef<HTMLDivElement>(null);
  useEffect(() => {
    const chart = echarts.init(ref.current as HTMLDivElement, undefined, { renderer: 'svg' });
    const { option, sigSpecs, graphic } = buildOption();
    chart.setOption(option as any);
    const extra: any[] = [];
    sigSpecs.forEach((sp: any) => {
      sp.sigs.forEach((s: any) => {
        const p1 = chart.convertToPixel({ gridIndex: sp.gi } as any, [s[0], s[2]]) as any;
        const p2 = chart.convertToPixel({ gridIndex: sp.gi } as any, [s[1], s[2]]) as any;
        if (!p1 || !p2) return;
        extra.push({ type: 'line', silent: true, shape: { x1: p1[0], y1: p1[1], x2: p2[0], y2: p2[1] }, style: { stroke: sp.color, lineWidth: sp.lw ?? 1 } });
        extra.push({
          type: 'text', silent: true, x: (p1[0] + p2[0]) / 2, y: p1[1] + sp.fs * 0.25,
          style: { text: s[3], fontSize: sp.fs, fontFamily: FONT, fill: sp.tcolor ?? '#444', align: 'center', verticalAlign: 'bottom', textAlign: 'center', textVerticalAlign: 'bottom' },
        });
      });
    });
    const all = [...graphic, ...extra].map((e: any) => ({ ...e, z: 100 }));
    chart.setOption({ graphic: all } as any);
    return () => chart.dispose();
  }, []);
  return <div ref={ref} style={{ position: 'absolute', left: 0, top: 0, width: 754, height: 545 }} />;
}
